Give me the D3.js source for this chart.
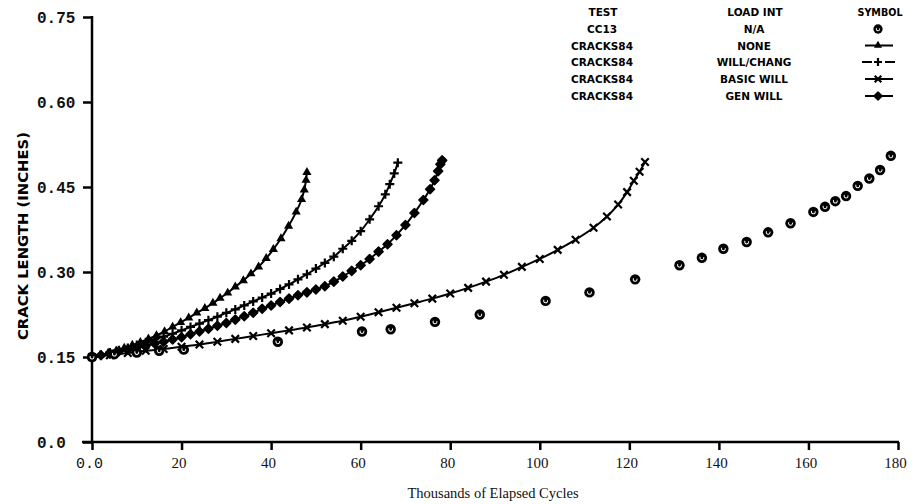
<!DOCTYPE html>
<html>
<head>
<meta charset="utf-8">
<script src="https://cdn.jsdelivr.net/npm/d3@7"></script>
<style>
body { margin: 0; background: #fff; }
</style>
</head>
<body>
<script>

// tick values
var xTicks = [0, 20, 40, 60, 80, 100, 120, 140, 160, 180];
var yTicks = [0, 0.15, 0.30, 0.45, 0.60, 0.75];

// legend columns
var legendTests = ["CC13", "CRACKS84", "CRACKS84", "CRACKS84", "CRACKS84"];
var legendLoads = ["N/A", "NONE", "WILL/CHANG", "BASIC WILL", "GEN WILL"];

// CC13 test data  [thousands of cycles, crack length]
var cc13 = [[0,.150],[5,.155],[10,.158],[15,.161],[20.5,.163],[41.5,.177],[60.3,.195],[66.7,.199],[76.6,.212],
	[86.6,.225],[101.3,.249],[111.1,.264],[121.3,.287],[131.2,.312],[136.2,.325],[141,.341],[146.2,.353],
	[151,.370],[156,.386],[161.1,.406],[163.7,.415],[166,.425],[168.4,.434],[171,.452],[173.6,.465],
	[176,.480],[178.4,.505]];

// CRACKS84 - NONE (triangles)
var noneRet = [[0,.150],[1.8,.153],[3.6,.157],[5.4,.161],[7.2,.166],[9,.171],[10.8,.176],[12.6,.182],
	[14.4,.188],[16.2,.195],[18,.203],[19.8,.211],[21.6,.219],[23.4,.228],[25.2,.236],[27,.245],[28.6,.254],
	[30.3,.263],[32,.274],[33.8,.285],[35.5,.297],[37.2,.309],[38.9,.324],[40.5,.340],[42.2,.359],
	[43.9,.381],[45.6,.406],[46.8,.428],[47.4,.445],[47.8,.462],[48,.476]];

// CRACKS84 - WILL/CHANG (plus)
var willChang = [[0,.150],[2,.154],[4,.158],[6,.162],[8,.166],[10,.171],[12,.176],[14,.181],[16,.186],
	[18,.191],[20,.197],[22,.203],[24,.209],[26,.215],[28,.221],[30,.228],[32,.234],[34,.241],[36,.248],
	[38,.255],[40,.262],[42,.270],[44,.278],[46,.287],[48,.296],[50,.306],[52,.316],[54,.327],[56,.341],
	[58,.355],[60,.372],[62,.393],[64,.416],[65.5,.437],[66.5,.455],[67.5,.474],[68.3,.493]];

// CRACKS84 - BASIC WILL (x)
var basicWill = [[0,.150],[4,.153],[8,.157],[12,.161],[16,.164],[20,.168],[24,.172],[28,.177],[32,.182],
	[36,.187],[40,.192],[44,.197],[48,.202],[52,.208],[56,.214],[60,.221],[64,.229],[68,.237],[72,.245],
	[76,.253],[80,.262],[84,.272],[88,.283],[92,.295],[96,.309],[100,.323],[104,.339],[108,.357],
	[112,.378],[115,.398],[117.5,.419],[119.5,.441],[121,.461],[122.3,.477],[123.5,.494]];

// CRACKS84 - GEN WILL (diamonds)
var genWill = [[0,.150],[2,.153],[4,.156],[6,.160],[8,.163],[10,.167],[12,.170],[14,.174],[16,.177],
	[18,.181],[20,.185],[22,.190],[24,.195],[26,.200],[28,.205],[30,.210],[32,.216],[34,.222],[36,.228],
	[38,.235],[40,.241],[42,.247],[44,.253],[46,.259],[48,.264],[50,.269],[52,.275],[54,.283],[56,.292],
	[58,.302],[60,.312],[62,.323],[64,.336],[66,.349],[68,.365],[70,.383],[72,.404],[74,.427],[75.5,.446],
	[76.5,.462],[77.3,.478],[77.8,.490],[78.2,.497]];

var svg = d3.select("body").append("svg")
	.attr("width", 915)
	.attr("height", 504)
	.style("display", "block")

var x = d3.scaleLinear().domain([0, 180]).range([92, 898])
var y = d3.scaleLinear().domain([0, 0.75]).range([442, 17])

//AXES
var xAxis = svg.append("g")
	.attr("transform", "translate(0," + y(0) + ")")
	.call(d3.axisBottom(x).tickValues(xTicks).tickSize(8).tickSizeOuter(0)
		.tickFormat(function(d){ return d == 0 ? "0.0" : d }))
xAxis.select(".domain").remove()
xAxis.selectAll(".tick line").attr("stroke", "#000").attr("stroke-width", 2.5)
xAxis.selectAll(".tick text")
	.attr("y", 15)
	.attr("dx", -3)
	.attr("fill", "#111")
	.style("font-family", function(d){ return d == 0 ? "'Liberation Mono'" : "'Liberation Serif'" })
	.style("font-size", "15px")

var yAxis = svg.append("g")
	.attr("transform", "translate(" + x(0) + ",0)")
	.call(d3.axisLeft(y).tickValues(yTicks).tickSize(9).tickSizeOuter(0)
		.tickFormat(function(d){ return d == 0 ? "0.0" : d3.format(".2f")(d) }))
yAxis.select(".domain").remove()
yAxis.selectAll(".tick line").attr("stroke", "#000").attr("stroke-width", 2.5)
yAxis.selectAll(".tick text")
	.attr("x", 37 - x(0))
	.attr("text-anchor", "start")
	.attr("fill", "#111")
	.style("font-family", "'Liberation Mono'")
	.style("font-weight", "bold")
	.style("font-size", "16px")

// axis lines (x axis runs a bit left of the y axis, like the plot)
svg.append("line")
	.attr("x1", x(0) - 10).attr("x2", x(180) + 1)
	.attr("y1", y(0)).attr("y2", y(0))
	.attr("stroke", "#000").attr("stroke-width", 2.5)
svg.append("line")
	.attr("x1", x(0)).attr("x2", x(0))
	.attr("y1", y(0)).attr("y2", y(0.75) - 1)
	.attr("stroke", "#000").attr("stroke-width", 2.5)

//AXIS TITLES
svg.append("text")
	.attr("transform", "translate(28,236) rotate(-90)")
	.attr("text-anchor", "middle")
	.attr("textLength", 208)
	.attr("lengthAdjust", "spacingAndGlyphs")
	.style("font-family", "'DejaVu Sans'")
	.style("font-weight", "bold")
	.style("font-size", "14px")
	.text("CRACK LENGTH (INCHES)")

svg.append("text")
	.attr("x", 493).attr("y", 498)
	.attr("text-anchor", "middle")
	.style("font-family", "'Liberation Serif'")
	.style("font-size", "14.5px")
	.attr("fill", "#111")
	.text("Thousands of Elapsed Cycles")

//MARKER SHAPES
function drawMarker(g, kind, cx, cy, s) {
	if (kind == "circle") {
		g.append("circle").attr("cx", cx).attr("cy", cy).attr("r", s * 0.58).attr("fill", "#000")
		g.append("path")
			.attr("d", d3.arc()({innerRadius: s * 0.16, outerRadius: s * 0.27, startAngle: 1.2, endAngle: 5.3}))
			.attr("transform", "translate(" + cx + "," + cy + ")")
			.attr("fill", "#fff")
	} else if (kind == "triangle") {
		g.append("path").attr("d", d3.symbol(d3.symbolTriangle, s * s * 0.45)())
			.attr("transform", "translate(" + cx + "," + cy + ")")
			.attr("fill", "#000")
	} else if (kind == "diamond") {
		var h = s / 2
		g.append("path")
			.attr("d", "M" + cx + "," + (cy - h) + "L" + (cx + h) + "," + cy + "L" + cx + "," + (cy + h) + "L" + (cx - h) + "," + cy + "Z")
			.attr("fill", "#000").attr("stroke", "#000").attr("stroke-width", 1.5).attr("stroke-linejoin", "round")
	} else if (kind == "plus") {
		var h = s / 2
		g.append("path")
			.attr("d", "M" + (cx - h) + "," + cy + "H" + (cx + h) + "M" + cx + "," + (cy - h) + "V" + (cy + h))
			.attr("stroke", "#000").attr("stroke-width", 2.2)
	} else if (kind == "cross") {
		var h = s / 2.4
		g.append("path")
			.attr("d", "M" + (cx - h) + "," + (cy - h) + "L" + (cx + h) + "," + (cy + h) +
				"M" + (cx - h) + "," + (cy + h) + "L" + (cx + h) + "," + (cy - h))
			.attr("stroke", "#000").attr("stroke-width", 2.2)
	}
}

//SERIES
var series = [
	{data: noneRet, kind: "triangle", line: true},
	{data: willChang, kind: "plus", line: true},
	{data: basicWill, kind: "cross", line: true},
	{data: genWill, kind: "diamond", line: true},
	{data: cc13, kind: "circle", line: false}
]

var lineGen = d3.line()
	.x(function(d){ return x(d[0]) })
	.y(function(d){ return y(d[1]) })
	.curve(d3.curveCatmullRom)

var plot = svg.append("g")
series.forEach(function(s){
	if (s.line) {
		plot.append("path")
			.datum(s.data)
			.attr("d", lineGen)
			.attr("fill", "none")
			.attr("stroke", "#000")
			.attr("stroke-width", 2)
	}
	var mg = plot.append("g")
	s.data.forEach(function(d){
		drawMarker(mg, s.kind, x(d[0]), y(d[1]), 9)
	})
})

//LEGEND
var legend = svg.append("g")
	.style("font-family", "'DejaVu Sans'")
	.style("font-weight", "bold")
	.style("font-size", "10.5px")
	.attr("text-anchor", "middle")

legend.append("text").attr("x", 603).attr("y", 16).text("TEST")
legend.append("text").attr("x", 755).attr("y", 16).text("LOAD INT")
legend.append("text").attr("x", 880).attr("y", 16).attr("textLength", 45).attr("lengthAdjust", "spacingAndGlyphs").text("SYMBOL")

var rowY = [33, 49.5, 66, 83, 100]
var rowKinds = ["circle", "triangle", "plus", "cross", "diamond"]

legendTests.forEach(function(t, i){
	legend.append("text").attr("x", 602).attr("y", rowY[i]).text(t)
	legend.append("text").attr("x", 754).attr("y", rowY[i]).text(legendLoads[i])
	var cy = rowY[i] - 4
	var sym = legend.append("g")
	if (rowKinds[i] == "plus") {
		sym.append("line").attr("x1", 862).attr("x2", 872).attr("y1", cy).attr("y2", cy)
			.attr("stroke", "#000").attr("stroke-width", 2)
		sym.append("line").attr("x1", 885).attr("x2", 895).attr("y1", cy).attr("y2", cy)
			.attr("stroke", "#000").attr("stroke-width", 2)
	} else if (rowKinds[i] != "circle") {
		sym.append("line").attr("x1", 865).attr("x2", 893).attr("y1", cy).attr("y2", cy)
			.attr("stroke", "#000").attr("stroke-width", 2)
	}
	drawMarker(sym, rowKinds[i], 878, cy, rowKinds[i] == "circle" ? 8 : 8)
})

</script>
</body>
</html>
